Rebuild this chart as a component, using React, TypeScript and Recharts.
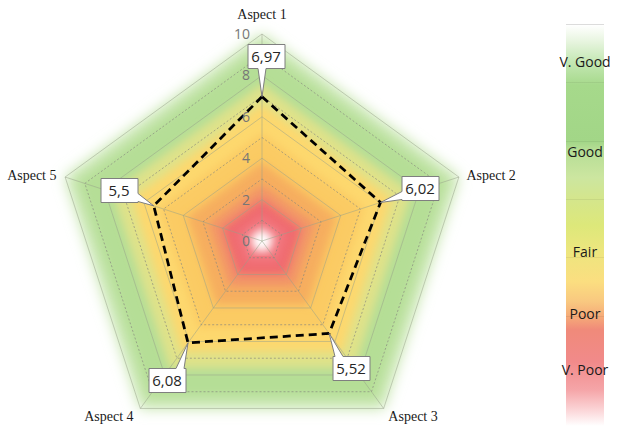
import React from 'react';
import { RadarChart, Radar, PolarGrid, PolarAngleAxis, PolarRadiusAxis } from 'recharts';

const aspects = ['Aspect 1', 'Aspect 2', 'Aspect 3', 'Aspect 4', 'Aspect 5'];
const scores = [6.97, 6.02, 5.52, 6.08, 5.5];
const radiusTicks = [0, 2, 4, 6, 8, 10];
const minorLevels = [1, 3, 5, 7, 9];
// soft coloured zones behind the data (outer to inner)
const bandLevels = [10, 9.2, 7.6, 6.6, 5.2, 3.8, 2.7, 2.0, 1.2, 0.6];
const ratingLabels = ['V. Good', 'Good', 'Fair', 'Poor', 'V. Poor'];

// styling / layout
const bandColors = ['#c2e4a8', '#b5de96', '#dfe28a', '#fdd86e', '#fbcb64', '#f6ae5f', '#f29468', '#f06a70', '#f27a82', '#ffffff'];
const calloutOffsets = [[4, -41], [39, -14], [22, 35], [-21, 37], [-35, -16]];
const angleLabelShift = [[0, -7], [0, 5], [0, 6], [-2, 6], [-1, 5]];
const ratingLabelY = [62, 152, 252, 314, 370];
const legendLines = [82, 141, 199, 257, 316];

const W = 545;
const H = 429;
const CX = 262;
const CY = 241;
const R = 207;

const chartData = aspects.map((aspect, i) => {
  const row: any = { aspect, score: scores[i] };
  bandLevels.forEach((lvl, j) => { row['b' + j] = lvl; });
  return row;
});

const fmt = (v: number) => String(v).replace('.', ',');

const calloutPath = (x0: number, y0: number, x1: number, y1: number, px: number, py: number) => {
  const clamp = (v: number, a: number, b: number) => Math.max(a, Math.min(b, v));
  const overX = px < x0 ? x0 - px : px > x1 ? px - x1 : 0;
  const overY = py < y0 ? y0 - py : py > y1 ? py - y1 : 0;
  if (overY >= overX) {
    const c = clamp(px, x0 + 6, x1 - 6);
    if (py > y1) {
      return `M${x0},${y0} H${x1} V${y1} H${c + 4} L${px},${py} L${c - 4},${y1} H${x0} Z`;
    }
    return `M${x0},${y0} H${c - 4} L${px},${py} L${c + 4},${y0} H${x1} V${y1} H${x0} Z`;
  }
  const c = clamp(py, y0 + 5, y1 - 5);
  if (px < x0) {
    return `M${x0},${y0} H${x1} V${y1} H${x0} V${c + 4} L${px},${py} L${x0},${c - 4} Z`;
  }
  return `M${x0},${y0} H${x1} V${c - 4} L${px},${py} L${x1},${c + 4} V${y1} H${x0} Z`;
};

const Callout = (props: any) => {
  const { cx, cy, index } = props;
  const [ox, oy] = calloutOffsets[index];
  const w = 37;
  const h = 24;
  const bx = Math.round(cx + ox);
  const by = Math.round(cy + oy);
  const x0 = bx - w / 2 + 0.5;
  const y0 = by - h / 2 + 0.5;
  return (
    <g key={'c' + index}>
      <path d={calloutPath(x0, y0, x0 + w, y0 + h, cx, cy)} fill="#ffffff" stroke="#7f7f7f" strokeWidth={1} />
      <text x={bx} y={by + 5.5} textAnchor="middle" fontSize={15} fontFamily="'Open Sans', sans-serif" fill="#262626">
        {fmt(scores[index])}
      </text>
    </g>
  );
};

const AngleTick = (props: any) => {
  const { x, y, payload, textAnchor } = props;
  const i = aspects.indexOf(payload.value);
  const [dx, dy] = angleLabelShift[i] || [0, 0];
  return (
    <text x={x + dx} y={y + dy} textAnchor={textAnchor} fontSize={14} fontFamily="'Liberation Serif', serif" fill="#1a1a1a">
      {payload.value}
    </text>
  );
};

const RadiusTick = (props: any) => {
  const { x, y, payload } = props;
  return (
    <text x={x - 12} y={y + 5} textAnchor="end" fontSize={14} fontFamily="'Open Sans', sans-serif" fill="#767676">
      {payload.value}
    </text>
  );
};

const legendGradient =
  'linear-gradient(to bottom, #ffffff 0%, #e8f5e0 4%, #c5e8b5 9%, #a6d98b 15%, #a2d687 29%, #b5dd95 31%, #cce6a0 38%, #d5e68a 44%, #dde87a 50%, #ece67e 56%, #fbde80 64%, #f9c880 69%, #f5a878 73%, #f08a7a 76%, #f18a8a 84%, #f5a5a8 91%, #fbd5d7 96%, #ffffff 100%)';

const chartProps = {
  width: W,
  height: H,
  data: chartData,
  cx: CX,
  cy: CY,
  outerRadius: R,
  margin: { top: 0, right: 0, bottom: 0, left: 0 },
};

export default function App() {
  return (
    <div style={{ position: 'absolute', left: 0, top: 0, width: 625, height: 429, background: '#ffffff' }}>
      <style>{'.band .recharts-polygon { filter: url(#soft); } .band-outer .recharts-polygon { filter: url(#softer); }'}</style>

      {/* background zones */}
      <div style={{ position: 'absolute', left: 0, top: 0 }}>
        <RadarChart {...chartProps}>
          <defs>
            <filter id="soft" x="-20%" y="-20%" width="140%" height="140%">
              <feGaussianBlur stdDeviation="4" />
            </filter>
            <filter id="softer" x="-20%" y="-20%" width="140%" height="140%">
              <feGaussianBlur stdDeviation="7" />
            </filter>
          </defs>
          <PolarAngleAxis dataKey="aspect" tick={false} tickLine={false} axisLine={false} />
          <PolarRadiusAxis angle={90} domain={[0, 10]} tick={false} axisLine={false} tickLine={false} />
          {bandLevels.map((lvl, j) => (
            <Radar
              key={'b' + j}
              className={j === 0 ? 'band-outer' : 'band'}
              dataKey={'b' + j}
              stroke="none"
              fill={bandColors[j]}
              fillOpacity={1}
              dot={false}
              isAnimationActive={false}
            />
          ))}
        </RadarChart>
      </div>

      {/* grid, axes and data */}
      <div style={{ position: 'absolute', left: 0, top: 0 }}>
        <RadarChart {...chartProps}>
          <PolarGrid
            gridType="polygon"
            polarRadius={radiusTicks.filter((t) => t > 0).map((t) => (t / 10) * R)}
            stroke="#97a28a"
            strokeOpacity={0.5}
          />
          <PolarGrid
            gridType="polygon"
            radialLines={false}
            polarRadius={minorLevels.map((t) => (t / 10) * R)}
            stroke="#85857d"
            strokeOpacity={0.65}
            strokeDasharray="2 2"
          />
          <PolarAngleAxis dataKey="aspect" tick={<AngleTick />} tickLine={false} axisLine={false} />
          <PolarRadiusAxis
            angle={90}
            domain={[0, 10]}
            tickCount={radiusTicks.length}
            tick={<RadiusTick />}
            axisLine={false}
            tickLine={false}
          />
          <Radar
            dataKey="score"
            stroke="#000000"
            strokeWidth={2.75}
            strokeDasharray="8 5"
            fill="none"
            fillOpacity={0}
            dot={Callout}
            isAnimationActive={false}
          />
        </RadarChart>
      </div>

      <div
        style={{
          position: 'absolute',
          left: 566,
          top: 24,
          width: 38,
          height: 401,
          background: legendGradient,
          borderTop: '1px solid #dcdcdc',
        }}
      />
      {legendLines.map((y) => (
        <div
          key={'l' + y}
          style={{ position: 'absolute', left: 566, top: y, width: 38, height: 1, background: 'rgba(0,0,0,0.06)' }}
        />
      ))}
      {ratingLabels.map((t, i) => (
        <div
          key={t}
          style={{
            position: 'absolute',
            left: 535,
            width: 100,
            top: ratingLabelY[i] - 10,
            height: 20,
            lineHeight: '20px',
            textAlign: 'center',
            fontFamily: "'Open Sans', sans-serif",
            fontSize: 14,
            color: '#1a1a1a',
          }}
        >
          {t}
        </div>
      ))}
    </div>
  );
}
